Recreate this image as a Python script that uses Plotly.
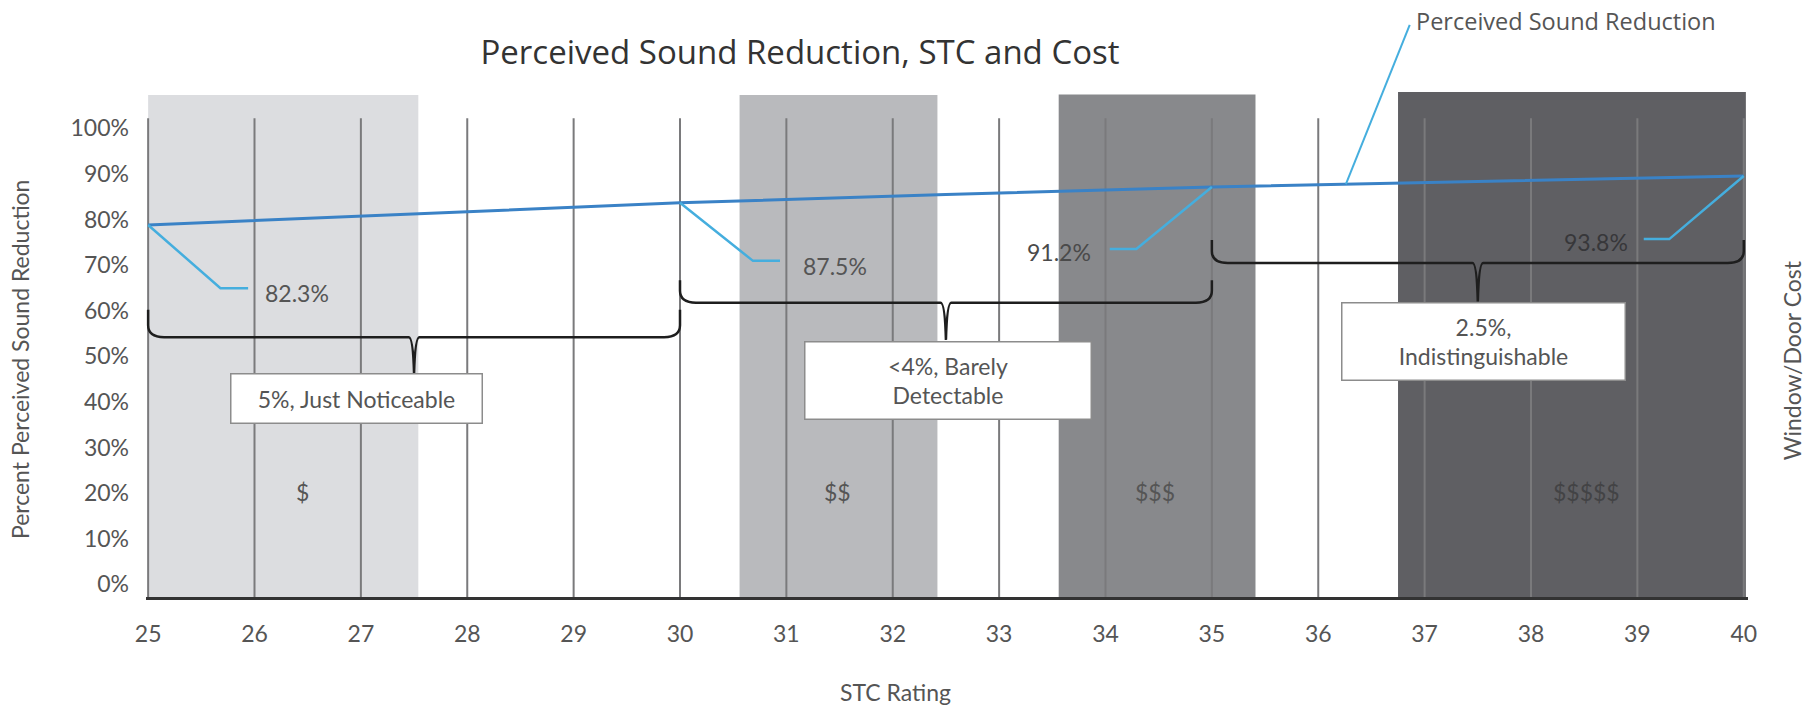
import numpy as np
import plotly.graph_objects as go

# ---- data -------------------------------------------------------------
stc_points = [25, 30, 35, 40]
perceived_pct = [82.3, 87.5, 91.2, 93.8]
pct_labels = ["82.3%", "87.5%", "91.2%", "93.8%"]

x_ticks = list(range(25, 41))
y_ticks = list(range(0, 101, 10))
y_tick_text = [f"{v}%" for v in y_ticks]

cost_labels = ["$", "$$", "$$$", "$$$$$"]
band_start = [25.0, 30.56, 33.56, 36.75]
band_end = [27.54, 32.42, 35.41, 40.02]
band_top = [107.3, 107.3, 107.4, 107.96]
band_colors = ["#dcdde0", "#b9babd", "#88898c", "#5f5f63"]
cost_label_x = [26.45, 31.48, 34.47, 38.52]
cost_label_y = 20.3

brace_start = [25, 30, 35]
brace_end = [30, 35, 40]
brace_text = ["5%, Just Noticeable", "&lt;4%, Barely<br>Detectable", "2.5%,<br>Indistinguishable"]

# ---- layout constants ---------------------------------------------------
W, H = 1811, 708
X_RANGE = [24.98, 40.04]
Y_RANGE = [-2.785, 107.96]      # left axis (percent labels)
Y2_RANGE = [-4.87, 113.47]      # overlay axis carrying the reduction curve
GRID_TOP = 102.2

LBL_FONT = "Lato, 'Open Sans', sans-serif"
TXT = "#555555"

# brace geometry: (horizontal level, tip level, notch bottom) on the left axis
brace_geom = [(54.2, 60.2, 46.3), (61.75, 66.7, 53.6), (70.46, 75.5, 62.0)]
# label boxes: (center x, center y, width px, height px)
box_geom = [(26.955, 40.64, 250, 48), (32.52, 44.6, 285, 76), (37.55, 53.2, 282, 76)]
# callout elbows: (elbow x, end x, level, label x, label y, anchor, colour)
callout_geom = [
    (25.68, 25.94, 67.5, 26.08, 66.4, "left", TXT),
    (30.686, 30.94, 73.9, 31.14, 72.8, "left", TXT),
    (34.29, 34.04, 76.7, 33.88, 76.0, "right", "#4a4a4a"),
    (39.30, 39.06, 79.0, 38.93, 78.4, "right", "#37373a"),
]


def x_to_paper(x):
    return (x - X_RANGE[0]) / (X_RANGE[1] - X_RANGE[0])


def y2_to_paper(v):
    return (v - Y2_RANGE[0]) / (Y2_RANGE[1] - Y2_RANGE[0])


fig = go.Figure()

# vertical grid lines at each STC value
gx, gy = [], []
for t in x_ticks:
    gx += [t, t, None]
    gy += [Y_RANGE[0], GRID_TOP, None]
fig.add_trace(go.Scatter(x=gx, y=gy, mode="lines",
                         line=dict(color="#7a7a7c", width=2),
                         hoverinfo="skip", showlegend=False))

# perceived sound reduction curve
fig.add_trace(go.Scatter(x=stc_points, y=perceived_pct, yaxis="y2", mode="lines",
                         line=dict(color="#3a82c6", width=3, shape="spline", smoothing=0.6),
                         name="Perceived Sound Reduction", showlegend=False))

shapes = []
# cost bands
for x0, x1, top, col in zip(band_start, band_end, band_top, band_colors):
    shapes.append(dict(type="rect", xref="x", yref="y", x0=x0, x1=x1,
                       y0=Y_RANGE[0], y1=top, fillcolor=col,
                       line=dict(width=0), layer="below"))

# curly braces grouping each 5-point STC step
rx, ry, nw = 0.15, 2.6, 0.05
for x0, x1, (yh, yt, yn) in zip(brace_start, brace_end, brace_geom):
    xm = (x0 + x1) / 2
    path = (f"M {x0},{yt} L {x0},{yh + ry} Q {x0},{yh} {x0 + rx},{yh} "
            f"L {xm - nw},{yh} Q {xm - nw * 0.2},{yh} {xm},{yn} "
            f"Q {xm + nw * 0.2},{yh} {xm + nw},{yh} "
            f"L {x1 - rx},{yh} Q {x1},{yh} {x1},{yh + ry} L {x1},{yt}")
    shapes.append(dict(type="path", xref="x", yref="y", path=path,
                       line=dict(color="#1e1e1e", width=2.5), layer="above"))

# callout leaders from each curve point to its percentage label
for xs, val, (ex, endx, lvl, *_rest) in zip(stc_points, perceived_pct, callout_geom):
    path = f"M {xs},{val} L {ex},{lvl} L {endx},{lvl}"
    shapes.append(dict(type="path", xref="x", yref="y2", path=path,
                       line=dict(color="#45aede", width=2.5), layer="above"))

# leader for the series name above the plot
lead_x = 36.26
lead_v = float(np.interp(lead_x, stc_points, perceived_pct))
shapes.append(dict(type="line", xref="paper", yref="paper",
                   x0=x_to_paper(lead_x), y0=y2_to_paper(lead_v),
                   x1=x_to_paper(36.86), y1=1.1327,
                   line=dict(color="#45aede", width=2)))

annotations = []
# percentage labels
for lab, (_, _, _, lx, ly, anc, col) in zip(pct_labels, callout_geom):
    annotations.append(dict(x=lx, y=ly, xref="x", yref="y2", text=lab,
                            showarrow=False, xanchor=anc, yanchor="middle",
                            font=dict(family=LBL_FONT, size=23, color=col)))

# brace boxes
for txt, (cx, cy, bw, bh) in zip(brace_text, box_geom):
    annotations.append(dict(x=cx, y=cy, xref="x", yref="y", text=txt,
                            showarrow=False, xanchor="center", yanchor="middle",
                            width=bw, height=bh, align="center",
                            bgcolor="#ffffff", bordercolor="#8c8c8c",
                            borderwidth=1.5, borderpad=0,
                            font=dict(family=LBL_FONT, size=23, color=TXT)))

# cost labels inside bands
for lab, lx in zip(cost_labels, cost_label_x):
    col = "#434345" if lab == "$$$$$" else TXT
    annotations.append(dict(x=lx, y=cost_label_y, xref="x", yref="y", text=lab,
                            showarrow=False, xanchor="center", yanchor="middle",
                            font=dict(family=LBL_FONT, size=23, color=col)))

# series name
annotations.append(dict(x=x_to_paper(36.9), y=1.1412, xref="paper", yref="paper",
                        text="Perceived Sound Reduction", showarrow=False,
                        xanchor="left", yanchor="middle",
                        font=dict(family="'Open Sans', sans-serif", size=23.5, color=TXT)))

# axis titles
annotations.append(dict(x=-0.0786, y=0.4713, xref="paper", yref="paper",
                        text="Percent Perceived Sound Reduction", textangle=-90,
                        showarrow=False, xanchor="center", yanchor="middle",
                        font=dict(family=LBL_FONT, size=23, color=TXT)))
annotations.append(dict(x=1.0276, y=0.4693, xref="paper", yref="paper",
                        text="Window/Door Cost", textangle=-90,
                        showarrow=False, xanchor="center", yanchor="middle",
                        font=dict(family=LBL_FONT, size=23, color=TXT)))
annotations.append(dict(x=x_to_paper(32.03), y=-0.1875, xref="paper", yref="paper",
                        text="STC Rating", showarrow=False,
                        xanchor="center", yanchor="middle",
                        font=dict(family=LBL_FONT, size=23, color=TXT)))

fig.update_layout(
    width=W, height=H,
    margin=dict(l=146, r=63, t=92, b=111, pad=0),
    paper_bgcolor="#ffffff", plot_bgcolor="#ffffff",
    title=dict(text="Perceived Sound Reduction, STC and Cost",
               x=800 / W, y=1 - 52 / H, xref="container", yref="container",
               xanchor="center", yanchor="middle",
               font=dict(family="'Open Sans', sans-serif", size=33, color="#333333")),
    xaxis=dict(range=X_RANGE, tickvals=x_ticks, showgrid=False, zeroline=False,
               showline=True, linecolor="#333333", linewidth=3, ticks="",
               ticklabelstandoff=14,
               tickfont=dict(family=LBL_FONT, size=23, color=TXT)),
    yaxis=dict(range=Y_RANGE, tickvals=y_ticks, ticktext=y_tick_text, showgrid=False,
               zeroline=False, showline=False, ticks="", ticklabelstandoff=16,
               tickfont=dict(family=LBL_FONT, size=23, color=TXT)),
    yaxis2=dict(range=Y2_RANGE, overlaying="y", side="right", showgrid=False,
                zeroline=False, showticklabels=False, showline=False, ticks=""),
    shapes=shapes,
    annotations=annotations,
    showlegend=False,
)

fig.write_html("out.html")
